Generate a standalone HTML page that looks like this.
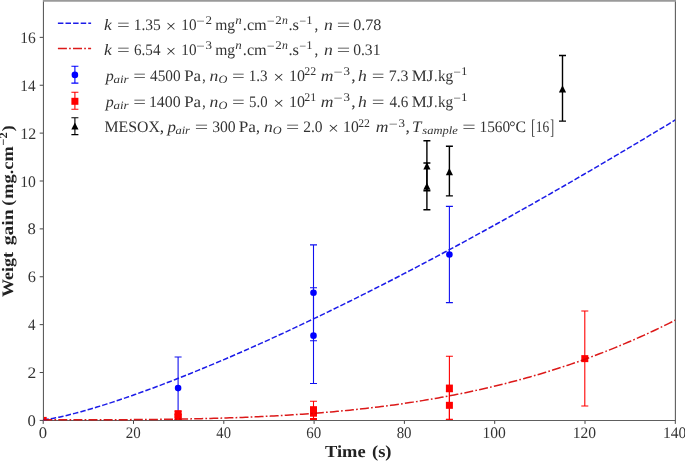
<!DOCTYPE html><html><head><meta charset="utf-8"><style>html,body{margin:0;padding:0;background:#fff;overflow:hidden}svg{display:block;will-change:transform}text{font-family:"Liberation Serif",serif;text-rendering:geometricPrecision}</style></head><body>
<svg width="685" height="461" viewBox="0 0 685 461">
<rect width="685" height="461" fill="#fff"/>
<defs><clipPath id="ax"><rect x="43.2" y="0" width="632.0999999999999" height="420.4"/></clipPath><clipPath id="ax2"><rect x="43.2" y="0" width="632.0999999999999" height="420.9"/></clipPath></defs>
<g clip-path="url(#ax)">
<path d="M178.10,419.20 V356.96 M174.60,419.20 h7.0 M174.60,356.96 h7.0" stroke="#1010f0" stroke-width="1.1" fill="none"/>
<path d="M313.50,340.68 V244.92 M310.00,340.68 h7.0 M310.00,244.92 h7.0" stroke="#1010f0" stroke-width="1.1" fill="none"/>
<path d="M313.50,383.53 V287.77 M310.00,383.53 h7.0 M310.00,287.77 h7.0" stroke="#1010f0" stroke-width="1.1" fill="none"/>
<path d="M449.40,302.62 V206.38 M445.90,302.62 h7.0 M445.90,206.38 h7.0" stroke="#1010f0" stroke-width="1.1" fill="none"/>
<circle cx="43.20" cy="420.40" r="3.30" fill="#0000ff"/>
<circle cx="178.10" cy="388.08" r="3.30" fill="#0000ff"/>
<circle cx="313.50" cy="292.80" r="3.30" fill="#0000ff"/>
<circle cx="313.50" cy="335.65" r="3.30" fill="#0000ff"/>
<circle cx="449.40" cy="254.50" r="3.30" fill="#0000ff"/>
<path d="M178.10,417.53 V411.30 M174.60,417.53 h7.0 M174.60,411.30 h7.0" stroke="#ff0000" stroke-width="1.1" fill="none"/>
<path d="M178.10,419.92 V414.18 M174.60,419.92 h7.0 M174.60,414.18 h7.0" stroke="#ff0000" stroke-width="1.1" fill="none"/>
<path d="M313.50,418.48 V401.25 M310.00,418.48 h7.0 M310.00,401.25 h7.0" stroke="#ff0000" stroke-width="1.1" fill="none"/>
<path d="M313.50,419.44 V406.99 M310.00,419.44 h7.0 M310.00,406.99 h7.0" stroke="#ff0000" stroke-width="1.1" fill="none"/>
<path d="M449.40,419.92 V356.24 M445.90,419.92 h7.0 M445.90,356.24 h7.0" stroke="#ff0000" stroke-width="1.1" fill="none"/>
<path d="M449.40,419.20 V391.67 M445.90,419.20 h7.0 M445.90,391.67 h7.0" stroke="#ff0000" stroke-width="1.1" fill="none"/>
<path d="M584.80,406.04 V310.99 M581.30,406.04 h7.0 M581.30,310.99 h7.0" stroke="#ff0000" stroke-width="1.1" fill="none"/>
<rect x="39.70" y="416.90" width="7.0" height="7.0" fill="#ff0000"/>
<rect x="174.60" y="410.20" width="7.0" height="7.0" fill="#ff0000"/>
<rect x="174.60" y="413.55" width="7.0" height="7.0" fill="#ff0000"/>
<rect x="310.00" y="406.37" width="7.0" height="7.0" fill="#ff0000"/>
<rect x="310.00" y="409.72" width="7.0" height="7.0" fill="#ff0000"/>
<rect x="445.90" y="384.58" width="7.0" height="7.0" fill="#ff0000"/>
<rect x="445.90" y="401.82" width="7.0" height="7.0" fill="#ff0000"/>
<rect x="581.30" y="355.13" width="7.0" height="7.0" fill="#ff0000"/>
<path d="M426.90,190.82 V140.78 M423.40,190.82 h7.0 M423.40,140.78 h7.0" stroke="#000000" stroke-width="1.4" fill="none"/>
<path d="M426.90,209.73 V163.04 M423.40,209.73 h7.0 M423.40,163.04 h7.0" stroke="#000000" stroke-width="1.4" fill="none"/>
<path d="M449.40,195.84 V146.29 M445.90,195.84 h7.0 M445.90,146.29 h7.0" stroke="#000000" stroke-width="1.4" fill="none"/>
<path d="M562.50,121.15 V55.55 M559.00,121.15 h7.0 M559.00,55.55 h7.0" stroke="#000000" stroke-width="1.4" fill="none"/>
<path d="M426.90,162.32 L430.50,169.52 L423.30,169.52 Z" fill="#000"/>
<path d="M426.90,182.67 L430.50,189.87 L423.30,189.87 Z" fill="#000"/>
<path d="M449.40,168.06 L453.00,175.26 L445.80,175.26 Z" fill="#000"/>
<path d="M562.50,85.23 L566.10,92.43 L558.90,92.43 Z" fill="#000"/>
</g>
<path d="M39.70,420.40 H43.20" stroke="#333" stroke-width="0.9"/>
<path d="M39.70,372.52 H43.20" stroke="#333" stroke-width="0.9"/>
<path d="M39.70,324.64 H43.20" stroke="#333" stroke-width="0.9"/>
<path d="M39.70,276.76 H43.20" stroke="#333" stroke-width="0.9"/>
<path d="M39.70,228.88 H43.20" stroke="#333" stroke-width="0.9"/>
<path d="M39.70,181.00 H43.20" stroke="#333" stroke-width="0.9"/>
<path d="M39.70,133.12 H43.20" stroke="#333" stroke-width="0.9"/>
<path d="M39.70,85.24 H43.20" stroke="#333" stroke-width="0.9"/>
<path d="M39.70,37.36 H43.20" stroke="#333" stroke-width="0.9"/>
<path d="M43.20,420.40 V423.90" stroke="#333" stroke-width="0.9"/>
<path d="M133.50,420.40 V423.90" stroke="#333" stroke-width="0.9"/>
<path d="M223.80,420.40 V423.90" stroke="#333" stroke-width="0.9"/>
<path d="M314.10,420.40 V423.90" stroke="#333" stroke-width="0.9"/>
<path d="M404.40,420.40 V423.90" stroke="#333" stroke-width="0.9"/>
<path d="M494.70,420.40 V423.90" stroke="#333" stroke-width="0.9"/>
<path d="M585.00,420.40 V423.90" stroke="#333" stroke-width="0.9"/>
<path d="M675.30,420.40 V423.90" stroke="#333" stroke-width="0.9"/>
<path d="M43.45,0 V420.45 H675.4 V0" fill="none" stroke="#5e5e5e" stroke-width="1.1"/>
<rect x="43" y="0" width="633" height="1.75" fill="#9a9a9a"/>
<g clip-path="url(#ax2)">
<path d="M43.20,419.80 L46.36,419.46 L49.52,418.98 L52.68,418.42 L55.84,417.81 L59.00,417.15 L62.16,416.45 L65.32,415.72 L68.48,414.96 L71.64,414.17 L74.81,413.36 L77.97,412.52 L81.13,411.66 L84.29,410.78 L87.45,409.89 L90.61,408.97 L93.77,408.03 L96.93,407.08 L100.09,406.12 L103.25,405.13 L106.41,404.14 L109.57,403.13 L112.73,402.10 L115.89,401.06 L119.05,400.01 L122.21,398.95 L125.37,397.87 L128.53,396.79 L131.69,395.69 L134.85,394.58 L138.01,393.46 L141.18,392.33 L144.34,391.19 L147.50,390.04 L150.66,388.87 L153.82,387.70 L156.98,386.52 L160.14,385.33 L163.30,384.13 L166.46,382.93 L169.62,381.71 L172.78,380.49 L175.94,379.25 L179.10,378.01 L182.26,376.76 L185.42,375.50 L188.58,374.24 L191.74,372.96 L194.90,371.68 L198.06,370.39 L201.22,369.09 L204.39,367.79 L207.55,366.48 L210.71,365.16 L213.87,363.84 L217.03,362.50 L220.19,361.17 L223.35,359.82 L226.51,358.47 L229.67,357.11 L232.83,355.74 L235.99,354.37 L239.15,352.99 L242.31,351.61 L245.47,350.22 L248.63,348.82 L251.79,347.42 L254.95,346.01 L258.11,344.59 L261.27,343.17 L264.44,341.75 L267.60,340.31 L270.76,338.88 L273.92,337.43 L277.08,335.98 L280.24,334.53 L283.40,333.07 L286.56,331.60 L289.72,330.13 L292.88,328.65 L296.04,327.17 L299.20,325.68 L302.36,324.19 L305.52,322.70 L308.68,321.19 L311.84,319.69 L315.00,318.17 L318.16,316.66 L321.32,315.13 L324.48,313.61 L327.64,312.07 L330.81,310.54 L333.97,308.99 L337.13,307.45 L340.29,305.90 L343.45,304.34 L346.61,302.78 L349.77,301.22 L352.93,299.65 L356.09,298.07 L359.25,296.49 L362.41,294.91 L365.57,293.32 L368.73,291.73 L371.89,290.13 L375.05,288.53 L378.21,286.93 L381.37,285.32 L384.53,283.71 L387.69,282.09 L390.85,280.47 L394.02,278.84 L397.18,277.21 L400.34,275.58 L403.50,273.94 L406.66,272.30 L409.82,270.65 L412.98,269.00 L416.14,267.34 L419.30,265.69 L422.46,264.02 L425.62,262.36 L428.78,260.69 L431.94,259.01 L435.10,257.34 L438.26,255.65 L441.42,253.97 L444.58,252.28 L447.74,250.59 L450.90,248.89 L454.06,247.19 L457.23,245.48 L460.39,243.78 L463.55,242.07 L466.71,240.35 L469.87,238.63 L473.03,236.91 L476.19,235.18 L479.35,233.45 L482.51,231.72 L485.67,229.98 L488.83,228.24 L491.99,226.50 L495.15,224.75 L498.31,223.00 L501.47,221.25 L504.63,219.49 L507.79,217.73 L510.95,215.97 L514.11,214.20 L517.27,212.43 L520.44,210.66 L523.60,208.88 L526.76,207.10 L529.92,205.31 L533.08,203.53 L536.24,201.74 L539.40,199.94 L542.56,198.15 L545.72,196.35 L548.88,194.54 L552.04,192.74 L555.20,190.93 L558.36,189.11 L561.52,187.30 L564.68,185.48 L567.84,183.66 L571.00,181.83 L574.16,180.00 L577.32,178.17 L580.49,176.34 L583.65,174.50 L586.81,172.66 L589.97,170.81 L593.13,168.97 L596.29,167.12 L599.45,165.27 L602.61,163.41 L605.77,161.55 L608.93,159.69 L612.09,157.82 L615.25,155.96 L618.41,154.09 L621.57,152.21 L624.73,150.34 L627.89,148.46 L631.05,146.58 L634.21,144.69 L637.37,142.81 L640.53,140.91 L643.70,139.02 L646.86,137.13 L650.02,135.23 L653.18,133.33 L656.34,131.42 L659.50,129.51 L662.66,127.60 L665.82,125.69 L668.98,123.78 L672.14,121.86 L675.30,119.94" fill="none" stroke="#1c1ce8" stroke-width="1.5" stroke-dasharray="5.5 2.1"/>
<path d="M43.20,419.80 L46.36,419.80 L49.52,419.80 L52.68,419.80 L55.84,419.80 L59.00,419.80 L62.16,419.80 L65.32,419.80 L68.48,419.80 L71.64,419.80 L74.81,419.79 L77.97,419.79 L81.13,419.79 L84.29,419.79 L87.45,419.78 L90.61,419.78 L93.77,419.77 L96.93,419.76 L100.09,419.76 L103.25,419.75 L106.41,419.74 L109.57,419.73 L112.73,419.72 L115.89,419.71 L119.05,419.69 L122.21,419.68 L125.37,419.66 L128.53,419.64 L131.69,419.62 L134.85,419.60 L138.01,419.58 L141.18,419.56 L144.34,419.53 L147.50,419.50 L150.66,419.47 L153.82,419.44 L156.98,419.41 L160.14,419.37 L163.30,419.33 L166.46,419.29 L169.62,419.25 L172.78,419.20 L175.94,419.15 L179.10,419.10 L182.26,419.05 L185.42,418.99 L188.58,418.93 L191.74,418.87 L194.90,418.80 L198.06,418.73 L201.22,418.66 L204.39,418.59 L207.55,418.51 L210.71,418.43 L213.87,418.34 L217.03,418.25 L220.19,418.16 L223.35,418.06 L226.51,417.96 L229.67,417.86 L232.83,417.75 L235.99,417.64 L239.15,417.52 L242.31,417.40 L245.47,417.28 L248.63,417.15 L251.79,417.01 L254.95,416.87 L258.11,416.73 L261.27,416.58 L264.44,416.43 L267.60,416.27 L270.76,416.11 L273.92,415.94 L277.08,415.77 L280.24,415.59 L283.40,415.41 L286.56,415.22 L289.72,415.02 L292.88,414.82 L296.04,414.61 L299.20,414.40 L302.36,414.18 L305.52,413.96 L308.68,413.73 L311.84,413.49 L315.00,413.25 L318.16,413.00 L321.32,412.75 L324.48,412.49 L327.64,412.22 L330.81,411.94 L333.97,411.66 L337.13,411.37 L340.29,411.08 L343.45,410.77 L346.61,410.46 L349.77,410.15 L352.93,409.82 L356.09,409.49 L359.25,409.15 L362.41,408.80 L365.57,408.45 L368.73,408.08 L371.89,407.71 L375.05,407.33 L378.21,406.95 L381.37,406.55 L384.53,406.15 L387.69,405.73 L390.85,405.31 L394.02,404.89 L397.18,404.45 L400.34,404.00 L403.50,403.55 L406.66,403.08 L409.82,402.61 L412.98,402.12 L416.14,401.63 L419.30,401.13 L422.46,400.62 L425.62,400.10 L428.78,399.57 L431.94,399.03 L435.10,398.48 L438.26,397.92 L441.42,397.35 L444.58,396.77 L447.74,396.18 L450.90,395.58 L454.06,394.97 L457.23,394.35 L460.39,393.72 L463.55,393.07 L466.71,392.42 L469.87,391.76 L473.03,391.08 L476.19,390.39 L479.35,389.70 L482.51,388.99 L485.67,388.27 L488.83,387.53 L491.99,386.79 L495.15,386.03 L498.31,385.27 L501.47,384.49 L504.63,383.69 L507.79,382.89 L510.95,382.07 L514.11,381.25 L517.27,380.40 L520.44,379.55 L523.60,378.68 L526.76,377.81 L529.92,376.91 L533.08,376.01 L536.24,375.09 L539.40,374.16 L542.56,373.22 L545.72,372.26 L548.88,371.29 L552.04,370.30 L555.20,369.30 L558.36,368.29 L561.52,367.26 L564.68,366.22 L567.84,365.17 L571.00,364.10 L574.16,363.02 L577.32,361.92 L580.49,360.81 L583.65,359.68 L586.81,358.54 L589.97,357.38 L593.13,356.21 L596.29,355.03 L599.45,353.82 L602.61,352.61 L605.77,351.37 L608.93,350.13 L612.09,348.86 L615.25,347.58 L618.41,346.29 L621.57,344.98 L624.73,343.65 L627.89,342.31 L631.05,340.95 L634.21,339.57 L637.37,338.18 L640.53,336.77 L643.70,335.35 L646.86,333.90 L650.02,332.45 L653.18,330.97 L656.34,329.48 L659.50,327.97 L662.66,326.44 L665.82,324.89 L668.98,323.33 L672.14,321.75 L675.30,320.15" fill="none" stroke="#d80000" stroke-opacity="0.9" stroke-width="1.5" stroke-dasharray="9 2.2 1.7 2.2"/>
</g>
<text x="27.63" y="425.90" font-size="16.00" textLength="8.33" lengthAdjust="spacingAndGlyphs" fill="#333">0</text>
<text x="27.51" y="378.02" font-size="16.00" textLength="8.75" lengthAdjust="spacingAndGlyphs" fill="#333">2</text>
<text x="28.00" y="330.14" font-size="16.00" textLength="7.53" lengthAdjust="spacingAndGlyphs" fill="#333">4</text>
<text x="27.65" y="282.26" font-size="16.00" textLength="8.14" lengthAdjust="spacingAndGlyphs" fill="#333">6</text>
<text x="27.63" y="234.38" font-size="16.00" textLength="8.33" lengthAdjust="spacingAndGlyphs" fill="#333">8</text>
<text x="20.27" y="186.50" font-size="16.00" textLength="15.66" lengthAdjust="spacingAndGlyphs" fill="#333">10</text>
<text x="20.25" y="138.62" font-size="16.00" textLength="15.93" lengthAdjust="spacingAndGlyphs" fill="#333">12</text>
<text x="20.31" y="90.74" font-size="16.00" textLength="15.22" lengthAdjust="spacingAndGlyphs" fill="#333">14</text>
<text x="20.28" y="42.86" font-size="16.00" textLength="15.48" lengthAdjust="spacingAndGlyphs" fill="#333">16</text>
<text x="38.73" y="437.90" font-size="16.00" textLength="8.33" lengthAdjust="spacingAndGlyphs" fill="#333">0</text>
<text x="125.68" y="437.90" font-size="16.00" textLength="14.97" lengthAdjust="spacingAndGlyphs" fill="#333">20</text>
<text x="216.36" y="437.90" font-size="16.00" textLength="14.57" lengthAdjust="spacingAndGlyphs" fill="#333">40</text>
<text x="306.35" y="437.90" font-size="16.00" textLength="14.89" lengthAdjust="spacingAndGlyphs" fill="#333">60</text>
<text x="396.65" y="437.90" font-size="16.00" textLength="14.89" lengthAdjust="spacingAndGlyphs" fill="#333">80</text>
<text x="482.38" y="437.90" font-size="16.00" textLength="23.35" lengthAdjust="spacingAndGlyphs" fill="#333">100</text>
<text x="572.68" y="437.90" font-size="16.00" textLength="23.35" lengthAdjust="spacingAndGlyphs" fill="#333">120</text>
<text x="662.98" y="437.90" font-size="16.00" textLength="23.35" lengthAdjust="spacingAndGlyphs" fill="#333">140</text>
<text x="325.02" y="456.80" font-size="17.00" font-weight="bold" textLength="40.61" lengthAdjust="spacingAndGlyphs" fill="#222">Time</text>
<text x="371.97" y="456.80" font-size="17.00" font-weight="bold" textLength="19.57" lengthAdjust="spacingAndGlyphs" fill="#222">(s)</text>
<g transform="rotate(-90)">
<text x="-296.97" y="13.00" font-size="16.00" font-weight="bold" textLength="45.05" lengthAdjust="spacingAndGlyphs" fill="#222">Weigt</text>
<text x="-245.29" y="13.00" font-size="16.00" font-weight="bold" textLength="35.86" lengthAdjust="spacingAndGlyphs" fill="#222">gain</text>
<text x="-205.79" y="13.00" font-size="16.00" font-weight="bold" textLength="5.86" lengthAdjust="spacingAndGlyphs" fill="#222">(</text>
<text x="-198.76" y="13.00" font-size="16.00" font-weight="bold" textLength="52.42" lengthAdjust="spacingAndGlyphs" fill="#222">mg.cm</text>
<text x="-145.65" y="7.20" font-size="11.20" font-weight="bold" textLength="13.18" lengthAdjust="spacingAndGlyphs" fill="#222">−2</text>
<text x="-131.17" y="13.00" font-size="16.00" font-weight="bold" textLength="5.86" lengthAdjust="spacingAndGlyphs" fill="#222">)</text>
</g>
<text x="104.04" y="30.00" font-size="16.00" font-style="italic" textLength="7.81" lengthAdjust="spacingAndGlyphs" fill="#333">k</text>
<text x="116.97" y="30.00" font-size="16.00" textLength="12.74" lengthAdjust="spacingAndGlyphs" fill="#333">=</text>
<text x="133.68" y="30.00" font-size="16.00" textLength="27.14" lengthAdjust="spacingAndGlyphs" fill="#333">1.35</text>
<text x="165.72" y="31.70" font-size="17.50" textLength="10.44" lengthAdjust="spacingAndGlyphs" fill="#333">×</text>
<text x="181.31" y="30.00" font-size="16.00" textLength="15.20" lengthAdjust="spacingAndGlyphs" fill="#333">10</text>
<text x="196.29" y="25.30" font-size="11.80" textLength="8.49" lengthAdjust="spacingAndGlyphs" fill="#333">−</text>
<text x="205.56" y="24.30" font-size="11.80" textLength="6.49" lengthAdjust="spacingAndGlyphs" fill="#333">2</text>
<text x="215.19" y="30.00" font-size="16.00" textLength="19.89" lengthAdjust="spacingAndGlyphs" fill="#333">mg</text>
<text x="235.24" y="24.30" font-size="11.80" font-style="italic" textLength="6.49" lengthAdjust="spacingAndGlyphs" fill="#333">n</text>
<text x="242.84" y="30.00" font-size="16.00" textLength="23.95" lengthAdjust="spacingAndGlyphs" fill="#333">.cm</text>
<text x="266.81" y="25.30" font-size="11.80" textLength="7.98" lengthAdjust="spacingAndGlyphs" fill="#333">−</text>
<text x="275.34" y="24.30" font-size="11.80" textLength="6.48" lengthAdjust="spacingAndGlyphs" fill="#333">2</text>
<text x="281.89" y="24.30" font-size="11.80" font-style="italic" textLength="5.88" lengthAdjust="spacingAndGlyphs" fill="#333">n</text>
<text x="288.43" y="30.00" font-size="16.00" textLength="10.53" lengthAdjust="spacingAndGlyphs" fill="#333">.s</text>
<text x="299.35" y="25.30" font-size="11.80" textLength="6.95" lengthAdjust="spacingAndGlyphs" fill="#333">−</text>
<text x="306.21" y="24.30" font-size="11.80" textLength="6.36" lengthAdjust="spacingAndGlyphs" fill="#333">1</text>
<text x="314.59" y="30.00" font-size="16.00" textLength="3.79" lengthAdjust="spacingAndGlyphs" fill="#333">,</text>
<text x="324.04" y="30.00" font-size="16.00" font-style="italic" textLength="8.80" lengthAdjust="spacingAndGlyphs" fill="#333">n</text>
<text x="336.81" y="30.00" font-size="16.00" textLength="13.46" lengthAdjust="spacingAndGlyphs" fill="#333">=</text>
<text x="353.16" y="30.00" font-size="16.00" textLength="28.19" lengthAdjust="spacingAndGlyphs" fill="#333">0.78</text>
<text x="104.04" y="55.00" font-size="16.00" font-style="italic" textLength="7.81" lengthAdjust="spacingAndGlyphs" fill="#333">k</text>
<text x="116.97" y="55.00" font-size="16.00" textLength="12.74" lengthAdjust="spacingAndGlyphs" fill="#333">=</text>
<text x="134.00" y="55.00" font-size="16.00" textLength="26.43" lengthAdjust="spacingAndGlyphs" fill="#333">6.54</text>
<text x="165.72" y="56.70" font-size="17.50" textLength="10.44" lengthAdjust="spacingAndGlyphs" fill="#333">×</text>
<text x="181.31" y="55.00" font-size="16.00" textLength="15.20" lengthAdjust="spacingAndGlyphs" fill="#333">10</text>
<text x="196.29" y="50.30" font-size="11.80" textLength="8.49" lengthAdjust="spacingAndGlyphs" fill="#333">−</text>
<text x="205.47" y="49.30" font-size="11.80" textLength="6.49" lengthAdjust="spacingAndGlyphs" fill="#333">3</text>
<text x="215.19" y="55.00" font-size="16.00" textLength="19.89" lengthAdjust="spacingAndGlyphs" fill="#333">mg</text>
<text x="235.24" y="49.30" font-size="11.80" font-style="italic" textLength="6.49" lengthAdjust="spacingAndGlyphs" fill="#333">n</text>
<text x="242.84" y="55.00" font-size="16.00" textLength="23.95" lengthAdjust="spacingAndGlyphs" fill="#333">.cm</text>
<text x="266.81" y="50.30" font-size="11.80" textLength="7.98" lengthAdjust="spacingAndGlyphs" fill="#333">−</text>
<text x="275.34" y="49.30" font-size="11.80" textLength="6.48" lengthAdjust="spacingAndGlyphs" fill="#333">2</text>
<text x="281.89" y="49.30" font-size="11.80" font-style="italic" textLength="5.88" lengthAdjust="spacingAndGlyphs" fill="#333">n</text>
<text x="288.43" y="55.00" font-size="16.00" textLength="10.53" lengthAdjust="spacingAndGlyphs" fill="#333">.s</text>
<text x="299.35" y="50.30" font-size="11.80" textLength="6.95" lengthAdjust="spacingAndGlyphs" fill="#333">−</text>
<text x="306.21" y="49.30" font-size="11.80" textLength="6.36" lengthAdjust="spacingAndGlyphs" fill="#333">1</text>
<text x="314.59" y="55.00" font-size="16.00" textLength="3.79" lengthAdjust="spacingAndGlyphs" fill="#333">,</text>
<text x="324.04" y="55.00" font-size="16.00" font-style="italic" textLength="8.80" lengthAdjust="spacingAndGlyphs" fill="#333">n</text>
<text x="336.81" y="55.00" font-size="16.00" textLength="13.46" lengthAdjust="spacingAndGlyphs" fill="#333">=</text>
<text x="353.18" y="55.00" font-size="16.00" textLength="27.26" lengthAdjust="spacingAndGlyphs" fill="#333">0.31</text>
<text x="105.66" y="81.30" font-size="16.00" font-style="italic" textLength="8.02" lengthAdjust="spacingAndGlyphs" fill="#333">p</text>
<text x="113.41" y="83.20" font-size="11.20" font-style="italic" textLength="15.15" lengthAdjust="spacingAndGlyphs" fill="#333">air</text>
<text x="133.37" y="81.30" font-size="16.00" textLength="12.74" lengthAdjust="spacingAndGlyphs" fill="#333">=</text>
<text x="149.99" y="81.30" font-size="16.00" textLength="30.62" lengthAdjust="spacingAndGlyphs" fill="#333">4500</text>
<text x="184.19" y="81.30" font-size="16.00" textLength="16.86" lengthAdjust="spacingAndGlyphs" fill="#333">Pa</text>
<text x="202.25" y="81.30" font-size="16.00" textLength="3.45" lengthAdjust="spacingAndGlyphs" fill="#333">,</text>
<text x="209.44" y="81.30" font-size="16.00" font-style="italic" textLength="8.80" lengthAdjust="spacingAndGlyphs" fill="#333">n</text>
<text x="218.48" y="83.20" font-size="11.20" font-style="italic" textLength="8.90" lengthAdjust="spacingAndGlyphs" fill="#333">O</text>
<text x="231.97" y="81.30" font-size="16.00" textLength="12.74" lengthAdjust="spacingAndGlyphs" fill="#333">=</text>
<text x="248.72" y="81.30" font-size="16.00" textLength="18.89" lengthAdjust="spacingAndGlyphs" fill="#333">1.3</text>
<text x="273.21" y="83.00" font-size="17.50" textLength="10.86" lengthAdjust="spacingAndGlyphs" fill="#333">×</text>
<text x="288.94" y="81.30" font-size="16.00" textLength="16.00" lengthAdjust="spacingAndGlyphs" fill="#333">10</text>
<text x="304.36" y="74.60" font-size="11.80" textLength="11.89" lengthAdjust="spacingAndGlyphs" fill="#333">22</text>
<text x="320.76" y="81.30" font-size="16.00" font-style="italic" textLength="12.71" lengthAdjust="spacingAndGlyphs" fill="#333">m</text>
<text x="333.47" y="75.60" font-size="11.80" textLength="9.12" lengthAdjust="spacingAndGlyphs" fill="#333">−</text>
<text x="343.56" y="74.60" font-size="11.80" textLength="6.49" lengthAdjust="spacingAndGlyphs" fill="#333">3</text>
<text x="351.17" y="81.30" font-size="16.00" textLength="4.40" lengthAdjust="spacingAndGlyphs" fill="#333">,</text>
<text x="358.04" y="81.30" font-size="16.00" font-style="italic" textLength="8.80" lengthAdjust="spacingAndGlyphs" fill="#333">h</text>
<text x="371.67" y="81.30" font-size="16.00" textLength="12.74" lengthAdjust="spacingAndGlyphs" fill="#333">=</text>
<text x="388.67" y="81.30" font-size="16.00" textLength="19.76" lengthAdjust="spacingAndGlyphs" fill="#333">7.3</text>
<text x="411.69" y="81.30" font-size="16.00" textLength="21.62" lengthAdjust="spacingAndGlyphs" fill="#333">MJ</text>
<text x="434.29" y="81.30" font-size="16.00" textLength="3.12" lengthAdjust="spacingAndGlyphs" fill="#333">.</text>
<text x="438.00" y="81.30" font-size="16.00" textLength="15.21" lengthAdjust="spacingAndGlyphs" fill="#333">kg</text>
<text x="453.22" y="75.60" font-size="11.80" textLength="7.64" lengthAdjust="spacingAndGlyphs" fill="#333">−</text>
<text x="461.01" y="74.60" font-size="11.80" textLength="6.49" lengthAdjust="spacingAndGlyphs" fill="#333">1</text>
<text x="105.66" y="107.40" font-size="16.00" font-style="italic" textLength="8.02" lengthAdjust="spacingAndGlyphs" fill="#333">p</text>
<text x="113.41" y="109.30" font-size="11.20" font-style="italic" textLength="15.15" lengthAdjust="spacingAndGlyphs" fill="#333">air</text>
<text x="133.37" y="107.40" font-size="16.00" textLength="12.74" lengthAdjust="spacingAndGlyphs" fill="#333">=</text>
<text x="148.95" y="107.40" font-size="16.00" textLength="31.68" lengthAdjust="spacingAndGlyphs" fill="#333">1400</text>
<text x="184.19" y="107.40" font-size="16.00" textLength="16.86" lengthAdjust="spacingAndGlyphs" fill="#333">Pa</text>
<text x="202.25" y="107.40" font-size="16.00" textLength="3.45" lengthAdjust="spacingAndGlyphs" fill="#333">,</text>
<text x="209.44" y="107.40" font-size="16.00" font-style="italic" textLength="8.80" lengthAdjust="spacingAndGlyphs" fill="#333">n</text>
<text x="218.48" y="109.30" font-size="11.20" font-style="italic" textLength="8.90" lengthAdjust="spacingAndGlyphs" fill="#333">O</text>
<text x="231.97" y="107.40" font-size="16.00" textLength="12.74" lengthAdjust="spacingAndGlyphs" fill="#333">=</text>
<text x="249.11" y="107.40" font-size="16.00" textLength="18.48" lengthAdjust="spacingAndGlyphs" fill="#333">5.0</text>
<text x="273.21" y="109.10" font-size="17.50" textLength="10.86" lengthAdjust="spacingAndGlyphs" fill="#333">×</text>
<text x="288.94" y="107.40" font-size="16.00" textLength="16.00" lengthAdjust="spacingAndGlyphs" fill="#333">10</text>
<text x="304.36" y="100.70" font-size="11.80" textLength="11.96" lengthAdjust="spacingAndGlyphs" fill="#333">21</text>
<text x="320.76" y="107.40" font-size="16.00" font-style="italic" textLength="12.71" lengthAdjust="spacingAndGlyphs" fill="#333">m</text>
<text x="333.47" y="101.70" font-size="11.80" textLength="9.12" lengthAdjust="spacingAndGlyphs" fill="#333">−</text>
<text x="343.56" y="100.70" font-size="11.80" textLength="6.49" lengthAdjust="spacingAndGlyphs" fill="#333">3</text>
<text x="351.17" y="107.40" font-size="16.00" textLength="4.40" lengthAdjust="spacingAndGlyphs" fill="#333">,</text>
<text x="358.04" y="107.40" font-size="16.00" font-style="italic" textLength="8.80" lengthAdjust="spacingAndGlyphs" fill="#333">h</text>
<text x="371.67" y="107.40" font-size="16.00" textLength="12.74" lengthAdjust="spacingAndGlyphs" fill="#333">=</text>
<text x="389.40" y="107.40" font-size="16.00" textLength="18.85" lengthAdjust="spacingAndGlyphs" fill="#333">4.6</text>
<text x="411.69" y="107.40" font-size="16.00" textLength="21.62" lengthAdjust="spacingAndGlyphs" fill="#333">MJ</text>
<text x="434.29" y="107.40" font-size="16.00" textLength="3.12" lengthAdjust="spacingAndGlyphs" fill="#333">.</text>
<text x="438.00" y="107.40" font-size="16.00" textLength="15.21" lengthAdjust="spacingAndGlyphs" fill="#333">kg</text>
<text x="453.22" y="101.70" font-size="11.80" textLength="7.64" lengthAdjust="spacingAndGlyphs" fill="#333">−</text>
<text x="461.01" y="100.70" font-size="11.80" textLength="6.49" lengthAdjust="spacingAndGlyphs" fill="#333">1</text>
<text x="104.53" y="132.30" font-size="16.00" textLength="55.32" lengthAdjust="spacingAndGlyphs" fill="#333">MESOX</text>
<text x="159.67" y="132.30" font-size="16.00" textLength="4.40" lengthAdjust="spacingAndGlyphs" fill="#333">,</text>
<text x="167.42" y="132.30" font-size="16.00" font-style="italic" textLength="8.49" lengthAdjust="spacingAndGlyphs" fill="#333">p</text>
<text x="175.43" y="134.20" font-size="11.20" font-style="italic" textLength="14.54" lengthAdjust="spacingAndGlyphs" fill="#333">air</text>
<text x="194.71" y="132.30" font-size="16.00" textLength="13.46" lengthAdjust="spacingAndGlyphs" fill="#333">=</text>
<text x="212.19" y="132.30" font-size="16.00" textLength="23.53" lengthAdjust="spacingAndGlyphs" fill="#333">300</text>
<text x="238.68" y="132.30" font-size="16.00" textLength="17.17" lengthAdjust="spacingAndGlyphs" fill="#333">Pa</text>
<text x="256.07" y="132.30" font-size="16.00" textLength="3.97" lengthAdjust="spacingAndGlyphs" fill="#333">,</text>
<text x="264.04" y="132.30" font-size="16.00" font-style="italic" textLength="8.80" lengthAdjust="spacingAndGlyphs" fill="#333">n</text>
<text x="272.78" y="134.20" font-size="11.20" font-style="italic" textLength="8.90" lengthAdjust="spacingAndGlyphs" fill="#333">O</text>
<text x="286.03" y="132.30" font-size="16.00" textLength="13.22" lengthAdjust="spacingAndGlyphs" fill="#333">=</text>
<text x="303.20" y="132.30" font-size="16.00" textLength="19.42" lengthAdjust="spacingAndGlyphs" fill="#333">2.0</text>
<text x="328.01" y="134.00" font-size="17.50" textLength="10.86" lengthAdjust="spacingAndGlyphs" fill="#333">×</text>
<text x="343.07" y="132.30" font-size="16.00" textLength="15.66" lengthAdjust="spacingAndGlyphs" fill="#333">10</text>
<text x="358.18" y="126.90" font-size="11.80" textLength="11.67" lengthAdjust="spacingAndGlyphs" fill="#333">22</text>
<text x="375.76" y="132.30" font-size="16.00" font-style="italic" textLength="12.71" lengthAdjust="spacingAndGlyphs" fill="#333">m</text>
<text x="388.78" y="127.90" font-size="11.80" textLength="8.95" lengthAdjust="spacingAndGlyphs" fill="#333">−</text>
<text x="398.62" y="126.90" font-size="11.80" textLength="6.49" lengthAdjust="spacingAndGlyphs" fill="#333">3</text>
<text x="405.47" y="132.30" font-size="16.00" textLength="4.40" lengthAdjust="spacingAndGlyphs" fill="#333">,</text>
<text x="412.10" y="132.30" font-size="16.00" font-style="italic" textLength="9.40" lengthAdjust="spacingAndGlyphs" fill="#333">T</text>
<text x="422.37" y="134.20" font-size="11.20" font-style="italic" textLength="35.51" lengthAdjust="spacingAndGlyphs" fill="#333">sample</text>
<text x="462.21" y="132.30" font-size="16.00" textLength="13.46" lengthAdjust="spacingAndGlyphs" fill="#333">=</text>
<text x="479.50" y="132.30" font-size="16.00" textLength="30.61" lengthAdjust="spacingAndGlyphs" fill="#333">1560</text>
<text x="509.29" y="132.30" font-size="16.00" textLength="16.81" lengthAdjust="spacingAndGlyphs" fill="#333">°C</text>
<text x="531.31" y="133.80" font-size="21.00" textLength="3.94" lengthAdjust="spacingAndGlyphs" fill="#333">[</text>
<text x="535.66" y="132.30" font-size="16.00" textLength="13.45" lengthAdjust="spacingAndGlyphs" fill="#333">16</text>
<text x="550.30" y="133.80" font-size="21.00" textLength="3.85" lengthAdjust="spacingAndGlyphs" fill="#333">]</text>
<path d="M57.9,23.2 H91.1" stroke="#1c1ce8" stroke-width="1.5" stroke-dasharray="5.5 2.1"/>
<path d="M57.9,48.5 H91.1" stroke="#d80000" stroke-opacity="0.9" stroke-width="1.5" stroke-dasharray="9 2.2 1.7 2.2"/>
<path d="M74.90,66.20 V83.10 M71.40,66.20 h7.0 M71.40,83.10 h7.0" stroke="#0000ff" stroke-width="1.1" fill="none"/>
<circle cx="74.90" cy="74.90" r="3.30" fill="#0000ff"/>
<path d="M74.90,92.20 V109.20 M71.40,92.20 h7.0 M71.40,109.20 h7.0" stroke="#ff0000" stroke-width="1.1" fill="none"/>
<rect x="71.40" y="97.80" width="7.0" height="7.0" fill="#ff0000"/>
<path d="M74.90,117.80 V134.60 M71.40,117.80 h7.0 M71.40,134.60 h7.0" stroke="#000000" stroke-width="1.1" fill="none"/>
<path d="M74.90,122.40 L78.50,129.60 L71.30,129.60 Z" fill="#000"/>
</svg></body></html>
